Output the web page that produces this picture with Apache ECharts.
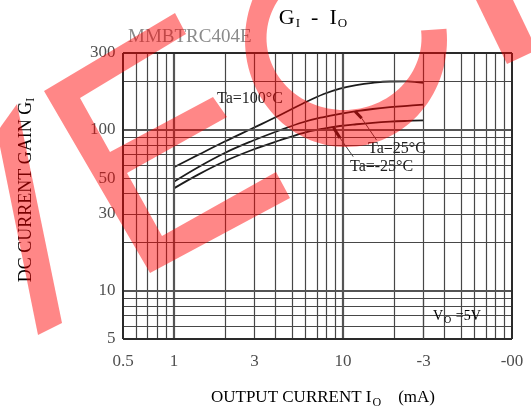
<!DOCTYPE html>
<html>
<head>
<meta charset="utf-8">
<title>GI - IO</title>
<script src="https://cdn.jsdelivr.net/npm/echarts@6/dist/echarts.min.js"></script>
<style>
html, body { margin: 0; padding: 0; background: #fff; }
#chart { width: 531px; height: 414px; }
</style>
</head>
<body>
<div id="chart"></div>
<script>
// 曲线数据
var currents = [1, 1.4, 2, 2.9, 4.2, 5.8, 7.7, 9.6, 12, 15, 19, 24, 30];
var gain100 = [58.4, 70, 84.5, 101.8, 122.6, 145.6, 166.8, 180.4, 189.7, 195.8, 199.5, 200, 195.3];
var gain25 = [47.5, 58.7, 71.7, 85.1, 98.9, 111.3, 120, 125.6, 130.4, 134.6, 138.1, 140.9, 143.3];
var gainM25 = [43.2, 52.8, 63.7, 74.8, 85.7, 95.4, 101.6, 105.5, 108.2, 110.4, 112.2, 113.5, 114.5];

// 刻度
var xTicks = [0.5, 1, 3, 10, 30, 100];
var xTickNames = ['0.5', '1', '3', '10', '-3', '-00'];
var yTicks = [300, 100, 50, 30, 10, 5];
var xGrid = [0.6, 0.7, 0.8, 0.9, 1, 2, 3, 4, 5, 6, 7, 8, 9, 10, 20, 30, 40, 50, 60, 70, 80, 90];
var yGrid = [6, 7, 8, 9, 10, 20, 30, 40, 50, 60, 70, 80, 90, 100, 200];
var majorX = [1, 10];
var majorY = [10, 100];

var FONT = 'Liberation Serif';
var RED = 'rgba(255,0,0,0.47)';

function pairs(ys) {
	var out = [];
	for (var i = 0; i < currents.length; i++) {
		out.push([currents[i], ys[i]]);
	}
	return out;
}

function gridLines() { //网格线
	var list = [];
	for (var i = 0; i < xGrid.length; i++) {
		var item = { xAxis: xGrid[i] };
		if (majorX.indexOf(xGrid[i]) >= 0) item.lineStyle = { width: 2.2, color: '#555', type: 'solid' };
		list.push(item);
	}
	for (var j = 0; j < yGrid.length; j++) {
		var it = { yAxis: yGrid[j] };
		if (majorY.indexOf(yGrid[j]) >= 0) it.lineStyle = { width: 2.2, color: '#555', type: 'solid' };
		list.push(it);
	}
	return list;
}

function curve(name, ys, extra) {
	var s = {
		name: name,
		type: 'line',
		z: 3,
		data: pairs(ys),
		smooth: 0.4,
		showSymbol: false,
		silent: true,
		clip: false,
		lineStyle: { color: '#1c1c1c', width: 1.8 }
	};
	if (extra) s.markLine = extra;
	return s;
}

// 引线
function leader(a, b, c) {
	return {
		silent: true,
		symbol: ['none', 'none'],
		label: { show: false },
		animation: false,
		lineStyle: { type: 'solid' },
		data: [
			[{ coord: a, lineStyle: { width: 3, color: '#1c1c1c', type: 'solid' } }, { coord: b }],
			[{ coord: b, lineStyle: { width: 1, color: '#444', type: 'solid' } }, { coord: c }]
		]
	};
}

// 水印形状
function ringPoints() {
	var pts = [];
	var a, r;
	for (a = -6; a <= 222; a += 3) {
		r = a * Math.PI / 180;
		pts.push([346 + 101 * Math.cos(r), 40 + 107 * Math.sin(r)]);
	}
	for (a = 222; a >= -6; a -= 3) {
		r = a * Math.PI / 180;
		pts.push([344 + 77.5 * Math.cos(r), 38 + 72 * Math.sin(r)]);
	}
	return pts;
}

function txt(x, y, text, rich, styleExtra, rotation) {
	var style = {
		text: text,
		align: 'left',
		verticalAlign: 'middle'
	};
	if (rich) style.rich = rich;
	for (var k in styleExtra || {}) style[k] = styleExtra[k];
	return {
		type: 'text',
		x: x,
		y: y,
		z: 6,
		rotation: rotation || 0,
		silent: true,
		style: style
	};
}

var myChart = echarts.init(document.getElementById('chart'));

var option = {
	animation: false,
	backgroundColor: '#fff',
	grid: {
		left: 123,
		right: 19,
		top: 53,
		bottom: 75
	},
	xAxis: {
		type: 'log',
		logBase: 10,
		min: 0.5,
		max: 100,
		axisLine: { show: false },
		axisTick: { show: false },
		axisLabel: { show: false },
		splitLine: { show: false }
	},
	yAxis: {
		type: 'log',
		logBase: 10,
		min: 5,
		max: 300,
		axisLine: { show: false },
		axisTick: { show: false },
		axisLabel: { show: false },
		splitLine: { show: false }
	},
	series: [{
			name: 'grid',
			type: 'line',
			z: 1,
			data: [],
			clip: false,
			silent: true,
			markLine: {
				silent: true,
				symbol: ['none', 'none'],
				label: { show: false },
				animation: false,
				lineStyle: { color: '#474747', width: 1.2, type: 'solid' },
				data: gridLines()
			}
		},
		{
			name: 'box',
			type: 'line',
			z: 2,
			data: [],
			clip: false,
			silent: true,
			markArea: {
				silent: true,
				label: { show: false },
				itemStyle: { color: '#fff' },
				data: [
					[{ coord: [30, 8.9] }, { coord: [100, 5.45] }]
				]
			}
		},
		curve('Ta=100°C', gain100),
		curve('Ta=25°C', gain25, leader([11.8, 130], [12.9, 118], [15.8, 86.3])),
		curve('Ta=-25°C', gainM25, leader([8.8, 103], [9.6, 89], [11.5, 68])),
		{
			name: 'frame',
			type: 'line',
			z: 4,
			data: [],
			clip: false,
			silent: true,
			markLine: {
				silent: true,
				symbol: ['none', 'none'],
				label: { show: false },
				animation: false,
				lineStyle: { color: '#2a2a2a', width: 2, type: 'solid' },
				data: [
					{ xAxis: 0.5 }, { xAxis: 100 }, { yAxis: 5 }, { yAxis: 300 },
					[{ coord: [30, 9], lineStyle: { width: 1.2, color: '#474747', type: 'solid' } }, { coord: [30, 5] }]
				]
			}
		},
		{
			name: 'xlabels',
			type: 'scatter',
			z: 5,
			silent: true,
			clip: false,
			symbolSize: 1,
			itemStyle: { color: 'rgba(0,0,0,0)' },
			data: xTicks.map(function(v) { return [v, 5]; }),
			label: {
				show: true,
				position: 'bottom',
				distance: 14,
				color: '#222',
				fontFamily: FONT,
				fontSize: 17,
				formatter: function(p) { return xTickNames[p.dataIndex]; }
			}
		},
		{
			name: 'ylabels',
			type: 'scatter',
			z: 5,
			silent: true,
			clip: false,
			symbolSize: 1,
			itemStyle: { color: 'rgba(0,0,0,0)' },
			data: yTicks.map(function(v) { return [0.5, v]; }),
			label: {
				show: true,
				position: 'left',
				distance: 7,
				color: '#222',
				fontFamily: FONT,
				fontSize: 17,
				formatter: function(p) { return String(p.value[1]); }
			}
		}
	],
	graphic: {
		elements: [
			// 标题
			txt(313, 18, '{m|G}{s|I}{m|  -  I}{s|O}', {
				m: { fontFamily: FONT, fontSize: 22, color: '#3a3a3a', lineHeight: 26 },
				s: { fontFamily: FONT, fontSize: 13, color: '#3a3a3a', lineHeight: 26, padding: [12, 0, 0, 1] }
			}, { align: 'center' }),
			txt(128, 37, 'MMBTRC404E', null, { fontFamily: FONT, fontSize: 19, fill: '#8a8a8a' }),
			// y 轴名
			txt(26, 190, '{m|DC CURRENT GAIN G}{s|I}', {
				m: { fontFamily: FONT, fontSize: 18, color: '#333', lineHeight: 22 },
				s: { fontFamily: FONT, fontSize: 12, color: '#333', lineHeight: 22, padding: [10, 0, 0, 0] }
			}, { align: 'center' }, Math.PI / 2),
			// x 轴名
			txt(323, 398, '{m|OUTPUT CURRENT I}{s|O}{m|    (mA)}', {
				m: { fontFamily: FONT, fontSize: 17, color: '#333', lineHeight: 22 },
				s: { fontFamily: FONT, fontSize: 12, color: '#333', lineHeight: 22, padding: [10, 0, 0, 1] }
			}, { align: 'center' }),
			// 曲线标注
			txt(217, 98.5, 'Ta=100°C', null, { fontFamily: FONT, fontSize: 16, fill: '#222' }),
			txt(368, 148.5, 'Ta=25°C', null, { fontFamily: FONT, fontSize: 16, fill: '#222' }),
			txt(350, 167, 'Ta=-25°C', null, { fontFamily: FONT, fontSize: 16, fill: '#222' }),
			txt(433, 316, '{m|V}{s|O}{m| =5V}', {
				m: { fontFamily: FONT, fontSize: 14, color: '#222', lineHeight: 18 },
				s: { fontFamily: FONT, fontSize: 10, color: '#222', lineHeight: 18, padding: [9, 1, 0, 1] }
			}),
			// 水印
			{
				type: 'polygon', z: 10, silent: true,
				shape: { points: [[17, 104], [62, 323], [38, 335], [-3, 132]] },
				style: { fill: RED }
			},
			{
				type: 'polygon', z: 10, silent: true,
				shape: { points: [[44, 91], [175, 13], [186, 34], [80, 98], [110, 152], [213, 97], [227, 117], [127, 173], [162, 236], [276, 172], [290, 198], [150, 273]] },
				style: { fill: RED }
			},
			{
				type: 'polygon', z: 10, silent: true,
				shape: { points: ringPoints() },
				style: { fill: RED }
			},
			{
				type: 'polygon', z: 10, silent: true,
				shape: { points: [[476, 0], [513, 0], [537, 50], [507, 64]] },
				style: { fill: RED }
			}
		]
	}
};
myChart.setOption(option);
</script>
</body>
</html>
